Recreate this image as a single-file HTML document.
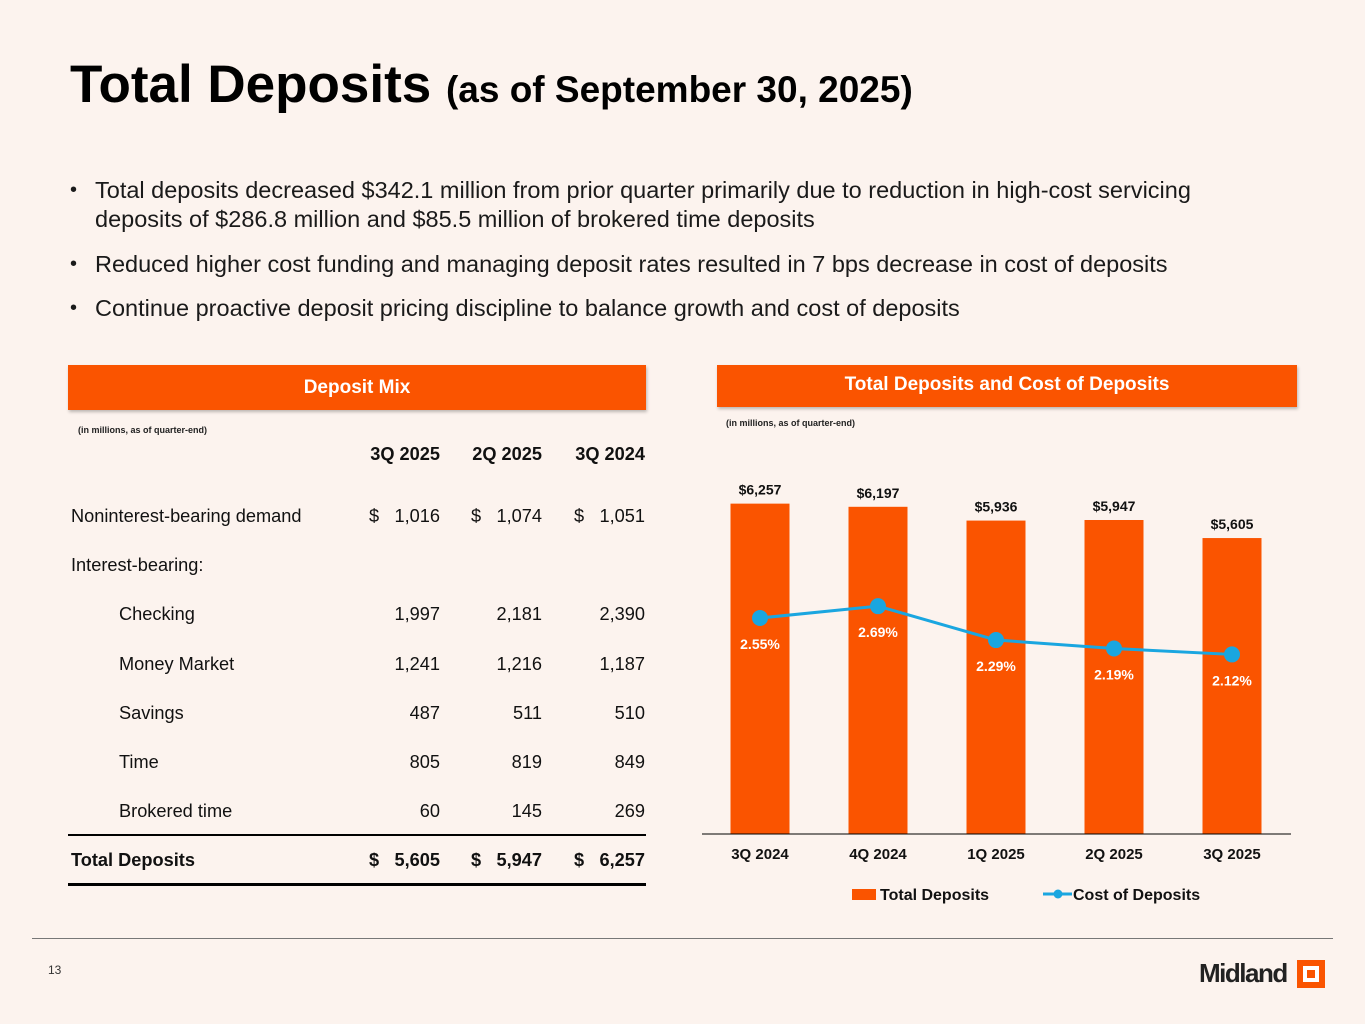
<!DOCTYPE html>
<html><head><meta charset="utf-8"><style>
body{margin:0;background:#FCF3EE;font-family:"Liberation Sans",Arial,sans-serif;}
#page{position:relative;width:1365px;height:1024px;overflow:hidden;background:#FCF3EE;}
.abs{position:absolute;}
.title{left:70px;top:54px;font-size:53px;font-weight:bold;color:#000;white-space:nowrap;}
.title span{font-size:37px;}
.bul{left:70px;font-size:23.5px;color:#1a1a1a;line-height:29px;}
.bul b{position:absolute;left:0;font-weight:normal;font-size:20px;}
.bul div{margin-left:25px;}
.hdr{background:#FA5400;color:#fff;font-weight:bold;font-size:19px;text-align:center;box-shadow:1px 2px 3px rgba(0,0,0,0.25);}
.small{font-size:9px;font-weight:bold;color:#222;}
.td{font-size:18.2px;color:#111;white-space:nowrap;}
</style></head><body>
<div id="page">
<div class="abs title">Total Deposits <span>(as of September 30, 2025)</span></div>

<div class="abs bul" style="top:176px;width:1160px"><b>•</b><div>Total deposits decreased $342.1 million from prior quarter primarily due to reduction in high-cost servicing deposits of $286.8 million and $85.5 million of brokered time deposits</div></div>
<div class="abs bul" style="top:250px;width:1250px"><b>•</b><div>Reduced higher cost funding and managing deposit rates resulted in 7 bps decrease in cost of deposits</div></div>
<div class="abs bul" style="top:294px;width:1250px"><b>•</b><div>Continue proactive deposit pricing discipline to balance growth and cost of deposits</div></div>

<div class="abs hdr" style="left:68px;top:365px;width:578px;height:45px;line-height:45px">Deposit Mix</div>
<div class="abs hdr" style="left:717px;top:365px;width:580px;height:42px;line-height:40px">Total Deposits and Cost of Deposits</div>
<div class="abs small" style="left:78px;top:425px">(in millions, as of quarter-end)</div>
<div class="abs small" style="left:726px;top:418px">(in millions, as of quarter-end)</div>

<div id="table"></div>
<div class="abs" style="left:68px;top:834px;width:578px;height:2px;background:#000"></div>
<div class="abs" style="left:68px;top:883px;width:578px;height:3px;background:#000"></div>

<svg id="chart" class="abs" style="left:0;top:0" width="1365" height="1024"></svg>

<div class="abs" style="left:32px;top:938px;width:1301px;height:1px;background:#777"></div>
<div class="abs" style="left:48px;top:963px;font-size:12px;color:#333">13</div>
<div class="abs" style="left:1199px;top:958px;font-size:26px;font-weight:bold;color:#222;letter-spacing:-1.5px">Midland</div>
<div class="abs" style="left:1297px;top:960px;width:16px;height:16px;border:6px solid #FA5400;background:#fff"><div style="position:absolute;left:4px;top:4px;width:8px;height:8px;background:#FA5400"></div></div>
</div>
<script>
const rowLabels=["Noninterest-bearing demand","Interest-bearing:","Checking","Money Market","Savings","Time","Brokered time","Total Deposits"];
const colHeaders=["3Q 2025","2Q 2025","3Q 2024"];
const col3Q25=["1,016","","1,997","1,241","487","805","60","5,605"];
const col2Q25=["1,074","","2,181","1,216","511","819","145","5,947"];
const col3Q24=["1,051","","2,390","1,187","510","849","269","6,257"];
const t=document.getElementById('table');
const colsR=[440,542,645],colsD=[369,471,574];
function add(html,style,name){const d=document.createElement('div');d.className='abs td';d.style.cssText=style;d.innerHTML=html;


t.appendChild(d);return d;}
colHeaders.forEach((h,i)=>add(h,`left:${colsR[i]-120}px;top:444px;width:120px;text-align:right;font-weight:bold`,'column-header'));
const cols=[col3Q25,col2Q25,col3Q24];
rowLabels.forEach((l,r)=>{const y=506+r*49.2;const ind=(r>=2&&r<=6)?119:71;const bold=r==7?'font-weight:bold;':'';
add(l,`left:${ind}px;top:${y}px;${bold}`,'row-label');
cols.forEach((c,i)=>{if(!c[r])return;
add(c[r],`left:${colsR[i]-120}px;top:${y}px;width:120px;text-align:right;${bold}`,'cell-value');
if(r==0||r==7)add('$',`left:${colsD[i]}px;top:${y}px;${bold}`,'dollar-sign');});});

const categories=["3Q 2024","4Q 2024","1Q 2025","2Q 2025","3Q 2025"];
const totalDeposits=[6257,6197,5936,5947,5605];
const depositLabels=["$6,257","$6,197","$5,936","$5,947","$5,605"];
const costOfDeposits=[2.55,2.69,2.29,2.19,2.12];
const costLabels=["2.55%","2.69%","2.29%","2.19%","2.12%"];
const svg=document.getElementById('chart');const NS='http://www.w3.org/2000/svg';
const base=834;
const xC=i=>760+i*118;
const yBar=v=>base-v*0.0528;
const yLine=v=>base-v*84.7;
function el(tag,attrs,name,text){const e=document.createElementNS(NS,tag);for(const k in attrs)e.setAttribute(k,attrs[k]);


if(text!==undefined)e.textContent=text;svg.appendChild(e);return e;}
const fnt='Liberation Sans, Arial, sans-serif';
totalDeposits.forEach((v,i)=>{
el('rect',{x:xC(i)-29.5,y:yBar(v),width:59,height:base-yBar(v),fill:'#FA5400'},'bar-'+i);
el('text',{x:xC(i),y:yBar(v)-9,'text-anchor':'middle','font-family':fnt,'font-size':14,'font-weight':'bold',fill:'#111'},'bar-value-label',depositLabels[i]);
el('text',{x:xC(i),y:base+25,'text-anchor':'middle','font-family':fnt,'font-size':15,'font-weight':'bold',fill:'#111'},'x-tick-label',categories[i]);
});
el('line',{x1:702,y1:base,x2:1291,y2:base,stroke:'#000','stroke-width':1},'x-axis');
el('polyline',{points:costOfDeposits.map((v,i)=>xC(i)+','+yLine(v)).join(' '),fill:'none',stroke:'#1AA6E0','stroke-width':3},'cost-line');
costOfDeposits.forEach((v,i)=>{
el('circle',{cx:xC(i),cy:yLine(v),r:8,fill:'#1AA6E0'},'cost-point-'+i);
el('text',{x:xC(i),y:yLine(v)+31,'text-anchor':'middle','font-family':fnt,'font-size':14,'font-weight':'bold',fill:'#fff'},'cost-label',costLabels[i]);
});
el('rect',{x:852,y:889,width:24,height:11,fill:'#FA5400'},'legend-swatch-deposits');
el('text',{x:880,y:900,'font-family':fnt,'font-size':16,'font-weight':'bold',fill:'#111'},'legend-label-deposits','Total Deposits');
el('line',{x1:1043,y1:894,x2:1072,y2:894,stroke:'#1AA6E0','stroke-width':3},'legend-line-cost');
el('circle',{cx:1058,cy:894,r:4.5,fill:'#1AA6E0'},'legend-marker-cost');
el('text',{x:1073,y:900,'font-family':fnt,'font-size':16,'font-weight':'bold',fill:'#111'},'legend-label-cost','Cost of Deposits');
</script>
</body></html>
